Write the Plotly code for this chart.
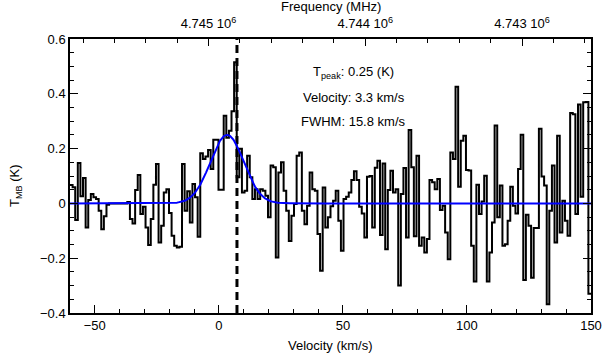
import numpy as np
import plotly.graph_objects as go

# ---------------- data ----------------
channel_start_kms = -60.0      # left edge of first channel
channel_width_kms = 1.05       # channel width

tmb_K = [
    0.067, 0.059, -0.061, 0.147, 0.026, 0.093, -0.088, 0.012, 0.034, 0.022,
    0.016, -0.027, -0.094, -0.047, -0.005, 0.0, 0.0, 0.0, 0.0, 0.0,
    0.0, 0.0, 0.005, -0.057, -0.073, 0.049, 0.104, -0.039, -0.012, -0.088,
    -0.152, -0.057, 0.068, 0.144, -0.143, -0.082, 0.040, 0.052, -0.035, -0.118,
    -0.155, -0.161, -0.158, 0.144, -0.027, 0.044, -0.070, 0.071, 0.022, -0.122,
    0.183, 0.162, 0.171, 0.195, 0.126, 0.232, 0.232, 0.050, 0.050, 0.320,
    0.240, 0.265, 0.336, 0.515, 0.095, 0.199, 0.040, 0.046, 0.174, 0.095,
    0.016, 0.052, 0.016, 0.052, 0.046, 0.028, -0.051, 0.138, 0.132, -0.197,
    0.113, 0.150, 0.046, -0.027, -0.137, -0.045, -0.002, 0.174, 0.186, -0.027,
    -0.076, -0.009, 0.113, 0.052, 0.046, -0.112, -0.246, 0.058, -0.088, -0.051,
    -0.010, 0.010, 0.046, -0.063, -0.173, 0.016, 0.024, 0.040, 0.085, 0.117,
    0.085, -0.012, -0.037, -0.124, 0.097, 0.100, -0.088, 0.130, 0.156, -0.115,
    0.146, -0.167, 0.049, 0.119, 0.040, 0.052, -0.300, 0.034, 0.129, -0.124,
    0.268, 0.132, -0.120, 0.174, -0.155, -0.124, -0.179, -0.130, 0.085, 0.077,
    0.052, 0.089, -0.024, -0.009, -0.106, -0.204, 0.186, 0.162, 0.426, 0.061,
    0.229, 0.247, 0.122, 0.120, -0.155, -0.285, 0.068, -0.039, 0.007, 0.101,
    -0.285, -0.179, -0.070, 0.284, -0.051, 0.065, -0.155, -0.149, -0.063, 0.061,
    -0.009, -0.037, 0.126, 0.251, -0.280, -0.041, -0.082, -0.271, -0.090, -0.090,
    0.272, 0.098, 0.065, -0.368, -0.027, 0.138, -0.143, 0.247, -0.106, 0.010,
    -0.063, -0.118, 0.330, 0.325, -0.039, 0.361, 0.024, 0.369, 0.370, -0.330,
]

# Gaussian fit parameters (as annotated)
fit_tpeak_K = 0.25
fit_velocity_kms = 3.3
fit_fwhm_kms = 15.8

marker_velocity_kms = 7.3      # dashed vertical marker

# axes
vel_range = [-60, 150]
vel_ticks = [-50, 0, 50, 100, 150]
tmb_range = [-0.4, 0.6]
tmb_ticks = [-0.4, -0.2, 0.0, 0.2, 0.4, 0.6]
tmb_tick_labels = ["\u22120.4", "\u22120.2", "0", "0.2", "0.4", "0.6"]

rest_freq_MHz = 4744934.0
c_kms = 299792.458
freq_major_MHz = [4745000, 4744000, 4743000]
freq_major_labels = ["4.745 10<sup>6</sup>", "4.744 10<sup>6</sup>", "4.743 10<sup>6</sup>"]
freq_minor_step_MHz = 200

# ---------------- figure ----------------
n = len(tmb_K)
edges = channel_start_kms + channel_width_kms * np.arange(n + 1)
y_step = list(tmb_K) + [tmb_K[-1]]

v_fine = np.linspace(vel_range[0], vel_range[1], 1200)
gauss = fit_tpeak_K * np.exp(-4 * np.log(2) * (v_fine - fit_velocity_kms) ** 2 / fit_fwhm_kms ** 2)

f_left = rest_freq_MHz * (1 - vel_range[0] / c_kms)
f_right = rest_freq_MHz * (1 - vel_range[1] / c_kms)
minor_f = np.arange(np.ceil(f_right / freq_minor_step_MHz) * freq_minor_step_MHz,
                    f_left, freq_minor_step_MHz)
minor_f = [f for f in minor_f if all(abs(f - m) > 1 for m in freq_major_MHz)]

fig = go.Figure()
fig.add_trace(go.Scatter(x=edges, y=y_step, mode="lines",
                         line=dict(color="black", width=2, shape="hv"),
                         showlegend=False, hoverinfo="skip"))
fig.add_trace(go.Scatter(x=[marker_velocity_kms, marker_velocity_kms], y=tmb_range,
                         mode="lines", line=dict(color="black", width=3, dash="8px,5px"),
                         showlegend=False, hoverinfo="skip"))
fig.add_trace(go.Scatter(x=v_fine, y=gauss, mode="lines",
                         line=dict(color="#0000ff", width=2),
                         showlegend=False, hoverinfo="skip"))
fig.add_trace(go.Scatter(x=[f_left, f_right], y=[None, None], xaxis="x2",
                         mode="lines", showlegend=False, hoverinfo="skip"))

font = dict(family="Liberation Sans, Arial, sans-serif", size=13, color="black")

tick_common = dict(ticks="inside", tickwidth=1.2, tickcolor="black",
                   showline=True, linecolor="black", linewidth=1.5,
                   showgrid=False, zeroline=False, automargin=False,
                   tickfont=font)

fig.update_layout(
    width=607, height=359,
    margin=dict(l=70, r=16, t=39, b=46, autoexpand=False),
    paper_bgcolor="white", plot_bgcolor="white",
    font=font,
    xaxis=dict(range=vel_range, tickmode="array", tickvals=vel_ticks, ticklen=8,
               minor=dict(ticks="inside", ticklen=4, tickwidth=1.2, tickcolor="black",
                          dtick=10, tick0=0, showgrid=False),
               **tick_common),
    xaxis2=dict(range=[f_left, f_right], overlaying="x", side="top", anchor="y",
                tickmode="array", tickvals=freq_major_MHz, ticktext=freq_major_labels,
                ticklen=7, ticklabelstandoff=4,
                minor=dict(ticks="inside", ticklen=4, tickwidth=1.2, tickcolor="black",
                           tickvals=minor_f, showgrid=False),
                **tick_common),
    yaxis=dict(range=tmb_range, tickmode="array", tickvals=tmb_ticks, ticktext=tmb_tick_labels,
               ticklen=8, mirror="ticks",
               minor=dict(ticks="inside", ticklen=4, tickwidth=1.2, tickcolor="black",
                          dtick=0.05, tick0=0, showgrid=False),
               **tick_common),
)

# axis titles placed as annotations
fig.add_annotation(x=0.5, y=0, xref="paper", yref="paper", yshift=-32,
                   text="Velocity (km/s)", showarrow=False,
                   xanchor="center", yanchor="middle", font=font)
fig.add_annotation(x=0.5, y=1, xref="paper", yref="paper", yshift=33,
                   text="Frequency (MHz)", showarrow=False,
                   xanchor="center", yanchor="middle", font=font)
fig.add_annotation(x=0, y=0.5, xref="paper", yref="paper", xshift=-55, yshift=-10,
                   text="T<sub>MB</sub> (K)", showarrow=False, textangle=-90,
                   xanchor="center", yanchor="middle", font=font)

notes = [
    ("T<sub>peak</sub>: 0.25 (K)", 0.478),
    ("Velocity: 3.3 km/s", 0.386),
    ("FWHM: 15.8 km/s", 0.298),
]
for txt, yv in notes:
    fig.add_annotation(x=54.3, y=yv, xref="x", yref="y", text=txt, showarrow=False,
                       xanchor="center", yanchor="middle", font=font)

fig.write_html("out.html", config={"displayModeBar": False},
               post_script="document.body.style.margin='0';document.body.style.padding='0';")
